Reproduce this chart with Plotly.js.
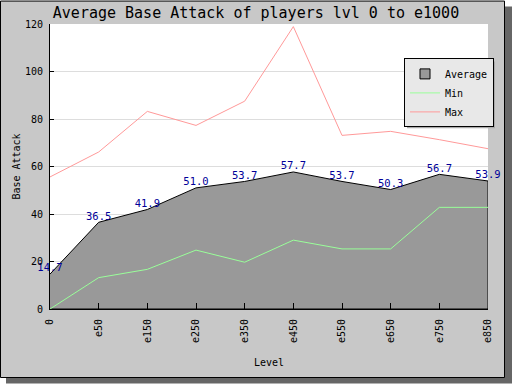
<!DOCTYPE html>
<html>
<head>
<meta charset="utf-8">
<script src="https://cdn.plot.ly/plotly-3.0.1.min.js"></script>
<style>html,body{margin:0;padding:0;background:#fff;}#chart{width:512px;height:384px;}</style>
</head>
<body>
<div id="chart"></div>
<script>
var levels = ["0", "e50", "e150", "e250", "e350", "e450", "e550", "e650", "e750", "e850"];
var avgValues = [14.7, 36.5, 41.9, 51.0, 53.7, 57.7, 53.7, 50.3, 56.7, 53.9];
var minValues = [0, 13.2, 16.7, 24.8, 19.7, 29.0, 25.3, 25.3, 42.8, 42.8];
var maxValues = [55.6, 66.1, 83.2, 77.3, 87.5, 118.9, 73.1, 74.8, 71.3, 67.5];
var avgLabels = avgValues.map(function(v){ return v.toFixed(1); });

var mono = "DejaVu Sans Mono, Liberation Mono, monospace";

// plot area in pixels
var L = 50, R = 488, T = 23.5, B = 309.3;
var W = R - L, H = B - T;
function px(x){ return (x - L) / W; }
function py(y){ return (B - y) / H; }

var last = levels.length - 1;
var areaX = levels.concat([levels[last], levels[0]]);
var areaY = avgValues.concat([0, 0]);

var traces = [
  {
    x: areaX, y: areaY, name: "Average", type: "scatter", mode: "lines",
    fill: "toself", fillcolor: "#999999", showlegend: false,
    line: {color: "#000000", width: 1}, hoverinfo: "skip"
  },
  {
    x: [null], y: [null], name: "Average", type: "scatter", mode: "markers",
    marker: {symbol: "square", size: 10, color: "#999999", line: {color: "#000000", width: 1}}
  },
  {
    x: levels, y: minValues, name: "Min", type: "scatter", mode: "lines",
    line: {color: "#99ff99", width: 1}
  },
  {
    x: levels, y: maxValues, name: "Max", type: "scatter", mode: "lines",
    line: {color: "#ff9999", width: 1}
  },
  {
    x: levels, y: avgValues, text: avgLabels, type: "scatter", mode: "text",
    textposition: "top center", showlegend: false, cliponaxis: false,
    textfont: {family: mono, size: 10.5, color: "#000099"}
  }
];

var legL = 404, legT = 58, legW = 88, legH = 67;

var layout = {
  width: 512, height: 384,
  margin: {l: L, r: 512 - R, t: T, b: 384 - B, pad: 0},
  paper_bgcolor: "rgba(0,0,0,0)",
  plot_bgcolor: "#ffffff",
  font: {family: mono, size: 10, color: "#000000"},
  title: {
    text: "Average Base Attack of players lvl 0 to e1000",
    font: {family: mono, size: 15, color: "#000000"},
    x: 0.5, xref: "container", xanchor: "center",
    y: 1 - 12.5 / 384, yref: "container", yanchor: "middle"
  },
  xaxis: {
    type: "category", range: [0, last],
    showline: true, linecolor: "#000000", linewidth: 1,
    showgrid: false, zeroline: false,
    ticks: "inside", ticklen: 6, tickcolor: "#000000",
    tickangle: -90, tickfont: {family: mono, size: 10}, ticklabelstandoff: 5,
    title: {text: "Level", font: {family: mono, size: 10}, standoff: 16}
  },
  yaxis: {
    range: [0, 120], dtick: 20, tick0: 0,
    showline: true, linecolor: "#000000", linewidth: 1,
    showgrid: true, gridcolor: "#dddddd", zeroline: false,
    ticks: "inside", ticklen: 4, tickcolor: "#000000",
    tickfont: {family: mono, size: 10}, ticklabelstandoff: 4,
    title: {text: "Base Attack", font: {family: mono, size: 10}, standoff: 2}
  },
  legend: {
    x: px(legL), y: py(legT), xanchor: "left", yanchor: "top",
    bgcolor: "#e8e8e8", bordercolor: "#000000", borderwidth: 1,
    font: {family: mono, size: 10}, tracegroupgap: 0
  },
  shapes: [
    {type: "rect", xref: "paper", yref: "paper", layer: "below",
     x0: px(6), x1: px(512), y0: py(6), y1: py(384),
     fillcolor: "#666666", line: {width: 0}},
    {type: "rect", xref: "paper", yref: "paper", layer: "below",
     x0: px(0.5), x1: px(504.5), y0: py(0.5), y1: py(378),
     fillcolor: "#c8c8c8", line: {color: "#000000", width: 1}},
    {type: "rect", xref: "paper", yref: "paper", layer: "below",
     x0: 0, x1: 1, y0: 0, y1: 1,
     fillcolor: "#ffffff", line: {width: 0}},
    {type: "rect", xref: "paper", yref: "paper", layer: "above",
     x0: px(legL + 3), x1: px(legL + legW + 3), y0: py(legT + 3), y1: py(legT + legH + 3),
     fillcolor: "#aaaaaa", line: {width: 0}}
  ],
  showlegend: true
};

Plotly.newPlot("chart", traces, layout, {displayModeBar: false, staticPlot: true});
</script>
</body>
</html>
